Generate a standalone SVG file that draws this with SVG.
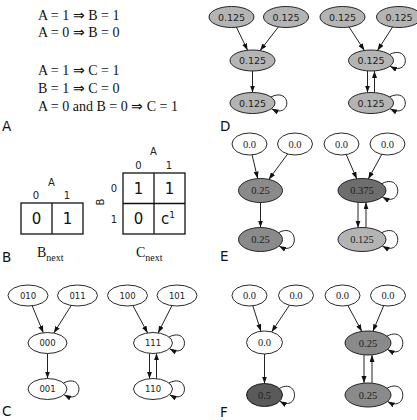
<svg xmlns="http://www.w3.org/2000/svg" width="417" height="420" viewBox="0 0 417 420">
<style>
.serif{font-family:"Liberation Serif","Times New Roman",serif;fill:#111}
.sans{font-family:"DejaVu Sans","Liberation Sans",sans-serif;fill:#111}
.panel{font-family:"DejaVu Sans","Liberation Sans",sans-serif;font-size:13.5px;fill:#111}
.hdr{font-family:"DejaVu Sans","Liberation Sans",sans-serif;font-size:10px;fill:#222;text-anchor:middle}
.cell{font-family:"DejaVu Sans","Liberation Sans",sans-serif;font-size:15px;fill:#111;text-anchor:middle}
.tbl{fill:none;stroke:#111;stroke-width:1.3}
.n ellipse{stroke:#111;stroke-width:0.9}
.n text{text-anchor:middle}
.w{fill:#fff}
.g1{fill:#b4b4b4}
.g2{fill:#8a8a8a}
.g3{fill:#6e6e6e}
.g4{fill:#5a5a5a}
.lbs{font-family:"DejaVu Sans","Liberation Sans",sans-serif;font-size:9.5px;fill:#222}
.lbc{font-family:"DejaVu Sans","Liberation Sans",sans-serif;font-size:8.5px;fill:#222}
.lbf{font-family:"Liberation Serif","Times New Roman",serif;font-size:10.5px;fill:#222}
#edges path,#edges line{fill:none;stroke:#222;stroke-width:1;marker-end:url(#ah)}
</style>
<defs>
<marker id="ah" markerUnits="userSpaceOnUse" markerWidth="8" markerHeight="6" refX="7" refY="2.5" orient="auto">
<path d="M0,0 L7,2.5 L0,5 z" fill="#111"/>
</marker>
</defs>

<!-- Panel A -->
<g id="panelA">
<text class="serif" x="38" y="20" font-size="14">A = 1 ⇒ B = 1</text>
<text class="serif" x="38" y="37" font-size="14">A = 0 ⇒ B = 0</text>
<text class="serif" x="38" y="75" font-size="14">A = 1 ⇒ C = 1</text>
<text class="serif" x="38" y="93" font-size="14">B = 1 ⇒ C = 0</text>
<text class="serif" x="38" y="111" font-size="14">A = 0 and B = 0 ⇒ C = 1</text>
<text class="panel" x="2" y="131">A</text>
</g>

<!-- Panel B -->
<g id="tableB">
<text class="hdr" x="51.5" y="186">A</text>
<text class="hdr" x="36" y="199">0</text>
<text class="hdr" x="67" y="199">1</text>
<rect class="tbl" x="21" y="203" width="62" height="31"/>
<line class="tbl" x1="52" y1="203" x2="52" y2="234"/>
<text class="cell" x="36.5" y="224">0</text>
<text class="cell" x="67.5" y="224">1</text>
<text class="serif" x="37" y="257" font-size="14">B<tspan font-size="10" dy="4">next</tspan></text>
</g>
<g id="tableC">
<text class="hdr" x="153.5" y="155">A</text>
<text class="hdr" x="138.5" y="169">0</text>
<text class="hdr" x="169" y="169">1</text>
<text class="hdr" x="114" y="192">0</text>
<text class="hdr" x="114" y="223">1</text>
<text class="hdr" transform="translate(104,202) rotate(-90)">B</text>
<rect class="tbl" x="123" y="173" width="62" height="61"/>
<line class="tbl" x1="154" y1="173" x2="154" y2="234"/>
<line class="tbl" x1="123" y1="203.5" x2="185" y2="203.5"/>
<text class="cell" x="138.5" y="194">1</text>
<text class="cell" x="169.5" y="194">1</text>
<text class="cell" x="138.5" y="224">0</text>
<text class="cell" x="168" y="224">c<tspan font-size="9" dy="-6">1</tspan></text>
<text class="serif" x="136" y="257" font-size="14">C<tspan font-size="10" dy="4">next</tspan></text>
</g>
<text class="panel" x="2" y="262">B</text>

<!-- Panel labels -->
<text class="panel" x="2" y="416">C</text>
<text class="panel" x="220" y="131">D</text>
<text class="panel" x="220" y="261">E</text>
<text class="panel" x="220" y="417">F</text>

<!-- Connectors -->
<g id="edges">
<!-- D -->
<line x1="236.4" y1="27.2" x2="247.6" y2="50.3"/>
<line x1="278.4" y1="26.9" x2="260.1" y2="50.6"/>
<line x1="252.5" y1="71" x2="252.5" y2="92.5"/>
<path d="M270.9,97 C292,86.5 292,119.5 271.6,108.8"/>
<line x1="349.1" y1="27" x2="364.4" y2="50.5"/>
<line x1="392.5" y1="27.1" x2="377.5" y2="50.4"/>
<line x1="367.5" y1="70.9" x2="367.5" y2="92.6"/>
<line x1="374.5" y1="92.6" x2="374.5" y2="70.9"/>
<path d="M389.4,54.5 C410.5,44 410.5,77 390.1,66.3"/>
<path d="M389.4,97 C410.5,86.5 410.5,119.5 390.1,108.8"/>
<!-- E -->
<line x1="252.1" y1="154.9" x2="257.7" y2="178.6"/>
<line x1="287.6" y1="154" x2="268.8" y2="179.4"/>
<line x1="260.5" y1="202.5" x2="260.5" y2="227.5"/>
<path d="M278.5,232.7 C299.5,221.5 299.5,257.5 279.2,246.1"/>
<line x1="346.2" y1="154.6" x2="356.8" y2="178.8"/>
<line x1="381.8" y1="154.4" x2="368.3" y2="178.9"/>
<line x1="358" y1="202.3" x2="358" y2="227.7"/>
<line x1="366" y1="227.7" x2="366" y2="202.3"/>
<path d="M381.7,183.7 C403,172.5 403,208.5 382.4,197.1"/>
<path d="M381.7,232.7 C403,221.5 403,257.5 382.4,246.1"/>
<!-- F -->
<line x1="252.8" y1="305.8" x2="260.9" y2="331.2"/>
<line x1="289.5" y1="305.2" x2="271.6" y2="331.9"/>
<line x1="264.5" y1="354" x2="264.5" y2="383.5"/>
<path d="M279.3,388.4 C299.5,377.5 299.5,412.5 279.8,401.3"/>
<line x1="347.9" y1="305.5" x2="361.8" y2="331.4"/>
<line x1="383.7" y1="305.7" x2="372.9" y2="331.3"/>
<line x1="364" y1="354.9" x2="364" y2="383.1"/>
<line x1="372" y1="383.1" x2="372" y2="354.9"/>
<path d="M386.9,336.2 C408,325 408,361 387.6,349.6"/>
<path d="M386.9,388.2 C408,377 408,413 387.6,401.6"/>
<!-- C -->
<line x1="32.2" y1="305.8" x2="43.3" y2="332.7"/>
<line x1="71.2" y1="305.5" x2="53.8" y2="333.1"/>
<line x1="47.5" y1="353.5" x2="47.5" y2="378.5"/>
<path d="M63.5,383 C84,372.5 84,405.5 64.1,394.8"/>
<line x1="132.9" y1="305.6" x2="147.6" y2="332.9"/>
<line x1="171.9" y1="305.7" x2="158.1" y2="332.9"/>
<line x1="149.5" y1="353.3" x2="149.5" y2="378.7"/>
<line x1="156.5" y1="378.7" x2="156.5" y2="353.3"/>
<path d="M169,337 C189.5,326.5 189.5,359.5 169.6,348.8"/>
<path d="M169,383 C189.5,372.5 189.5,405.5 169.6,394.8"/>
</g>

<!-- Panel D nodes -->
<g id="d1" class="n"><ellipse class="g1" cx="231.5" cy="17" rx="22.5" ry="10.5"/><text class="lbs" x="231.5" y="20.5">0.125</text></g>
<g id="d2" class="n"><ellipse class="g1" cx="286" cy="17" rx="22.5" ry="10.5"/><text class="lbs" x="286" y="20.5">0.125</text></g>
<g id="d3" class="n"><ellipse class="g1" cx="252.5" cy="60.5" rx="22.5" ry="10.5"/><text class="lbs" x="252.5" y="64">0.125</text></g>
<g id="d4" class="n"><ellipse class="g1" cx="252.5" cy="103" rx="22.5" ry="10.5"/><text class="lbs" x="252.5" y="106.5">0.125</text></g>
<g id="d5" class="n"><ellipse class="g1" cx="342.5" cy="17" rx="22.5" ry="10.5"/><text class="lbs" x="342.5" y="20.5">0.125</text></g>
<g id="d6" class="n"><ellipse class="g1" cx="399" cy="17" rx="22.5" ry="10.5"/><text class="lbs" x="399" y="20.5">0.125</text></g>
<g id="d7" class="n"><ellipse class="g1" cx="371" cy="60.5" rx="22.5" ry="10.5"/><text class="lbs" x="371" y="64">0.125</text></g>
<g id="d8" class="n"><ellipse class="g1" cx="371" cy="103" rx="22.5" ry="10.5"/><text class="lbs" x="371" y="106.5">0.125</text></g>

<!-- Panel E nodes -->
<g id="e1" class="n"><ellipse class="w" cx="249.5" cy="144" rx="17.5" ry="11"/><text class="lbf" x="249.5" y="147.5">0.0</text></g>
<g id="e2" class="n"><ellipse class="w" cx="295" cy="144" rx="17.5" ry="11"/><text class="lbf" x="295" y="147.5">0.0</text></g>
<g id="e3" class="n"><ellipse class="g2" cx="260.5" cy="190.5" rx="22" ry="12"/><text class="lbf" x="260.5" y="194">0.25</text></g>
<g id="e4" class="n"><ellipse class="g2" cx="260.5" cy="239.5" rx="22" ry="12"/><text class="lbf" x="260.5" y="243">0.25</text></g>
<g id="e5" class="n"><ellipse class="w" cx="341.5" cy="144" rx="17.5" ry="11"/><text class="lbf" x="341.5" y="147.5">0.0</text></g>
<g id="e6" class="n"><ellipse class="w" cx="387.5" cy="144" rx="17.5" ry="11"/><text class="lbf" x="387.5" y="147.5">0.0</text></g>
<g id="e7" class="n"><ellipse class="g3" cx="362" cy="190.5" rx="24" ry="12"/><text class="lbf" x="362" y="194">0.375</text></g>
<g id="e8" class="n"><ellipse class="g1" cx="362" cy="239.5" rx="24" ry="12"/><text class="lbf" x="362" y="243">0.125</text></g>

<!-- Panel F nodes -->
<g id="f1" class="n"><ellipse class="w" cx="249.5" cy="295.5" rx="17.5" ry="10.5"/><text class="lbf" x="249.5" y="299">0.0</text></g>
<g id="f2" class="n"><ellipse class="w" cx="296" cy="295.5" rx="17.5" ry="10.5"/><text class="lbf" x="296" y="299">0.0</text></g>
<g id="f3" class="n"><ellipse class="w" cx="264.5" cy="342.5" rx="18" ry="11.5"/><text class="lbf" x="264.5" y="346">0.0</text></g>
<g id="f4" class="n"><ellipse class="g4" cx="264.5" cy="395" rx="18" ry="11.5"/><text class="lbf" x="264.5" y="398.5">0.5</text></g>
<g id="f5" class="n"><ellipse class="w" cx="342.5" cy="295.5" rx="17.5" ry="10.5"/><text class="lbf" x="342.5" y="299">0.0</text></g>
<g id="f6" class="n"><ellipse class="w" cx="388" cy="295.5" rx="17.5" ry="10.5"/><text class="lbf" x="388" y="299">0.0</text></g>
<g id="f7" class="n"><ellipse class="g2" cx="368" cy="343" rx="23" ry="12"/><text class="lbf" x="368" y="346.5">0.25</text></g>
<g id="f8" class="n"><ellipse class="g2" cx="368" cy="395" rx="23" ry="12"/><text class="lbf" x="368" y="398.5">0.25</text></g>

<!-- Panel C nodes -->
<g id="c010" class="n"><ellipse class="w" cx="28" cy="295.5" rx="20" ry="10.5"/><text class="lbc" x="28" y="298.5">010</text></g>
<g id="c011" class="n"><ellipse class="w" cx="77.5" cy="295.5" rx="20" ry="10.5"/><text class="lbc" x="77.5" y="298.5">011</text></g>
<g id="c000" class="n"><ellipse class="w" cx="47.5" cy="343" rx="19.5" ry="10.5"/><text class="lbc" x="47.5" y="346">000</text></g>
<g id="c001" class="n"><ellipse class="w" cx="47.5" cy="389" rx="19.5" ry="10.5"/><text class="lbc" x="47.5" y="392">001</text></g>
<g id="c100" class="n"><ellipse class="w" cx="127.5" cy="295.5" rx="20" ry="10.5"/><text class="lbc" x="127.5" y="298.5">100</text></g>
<g id="c101" class="n"><ellipse class="w" cx="177" cy="295.5" rx="20" ry="10.5"/><text class="lbc" x="177" y="298.5">101</text></g>
<g id="c111" class="n"><ellipse class="w" cx="153" cy="343" rx="19.5" ry="10.5"/><text class="lbc" x="153" y="346">111</text></g>
<g id="c110" class="n"><ellipse class="w" cx="153" cy="389" rx="19.5" ry="10.5"/><text class="lbc" x="153" y="392">110</text></g>
</svg>
